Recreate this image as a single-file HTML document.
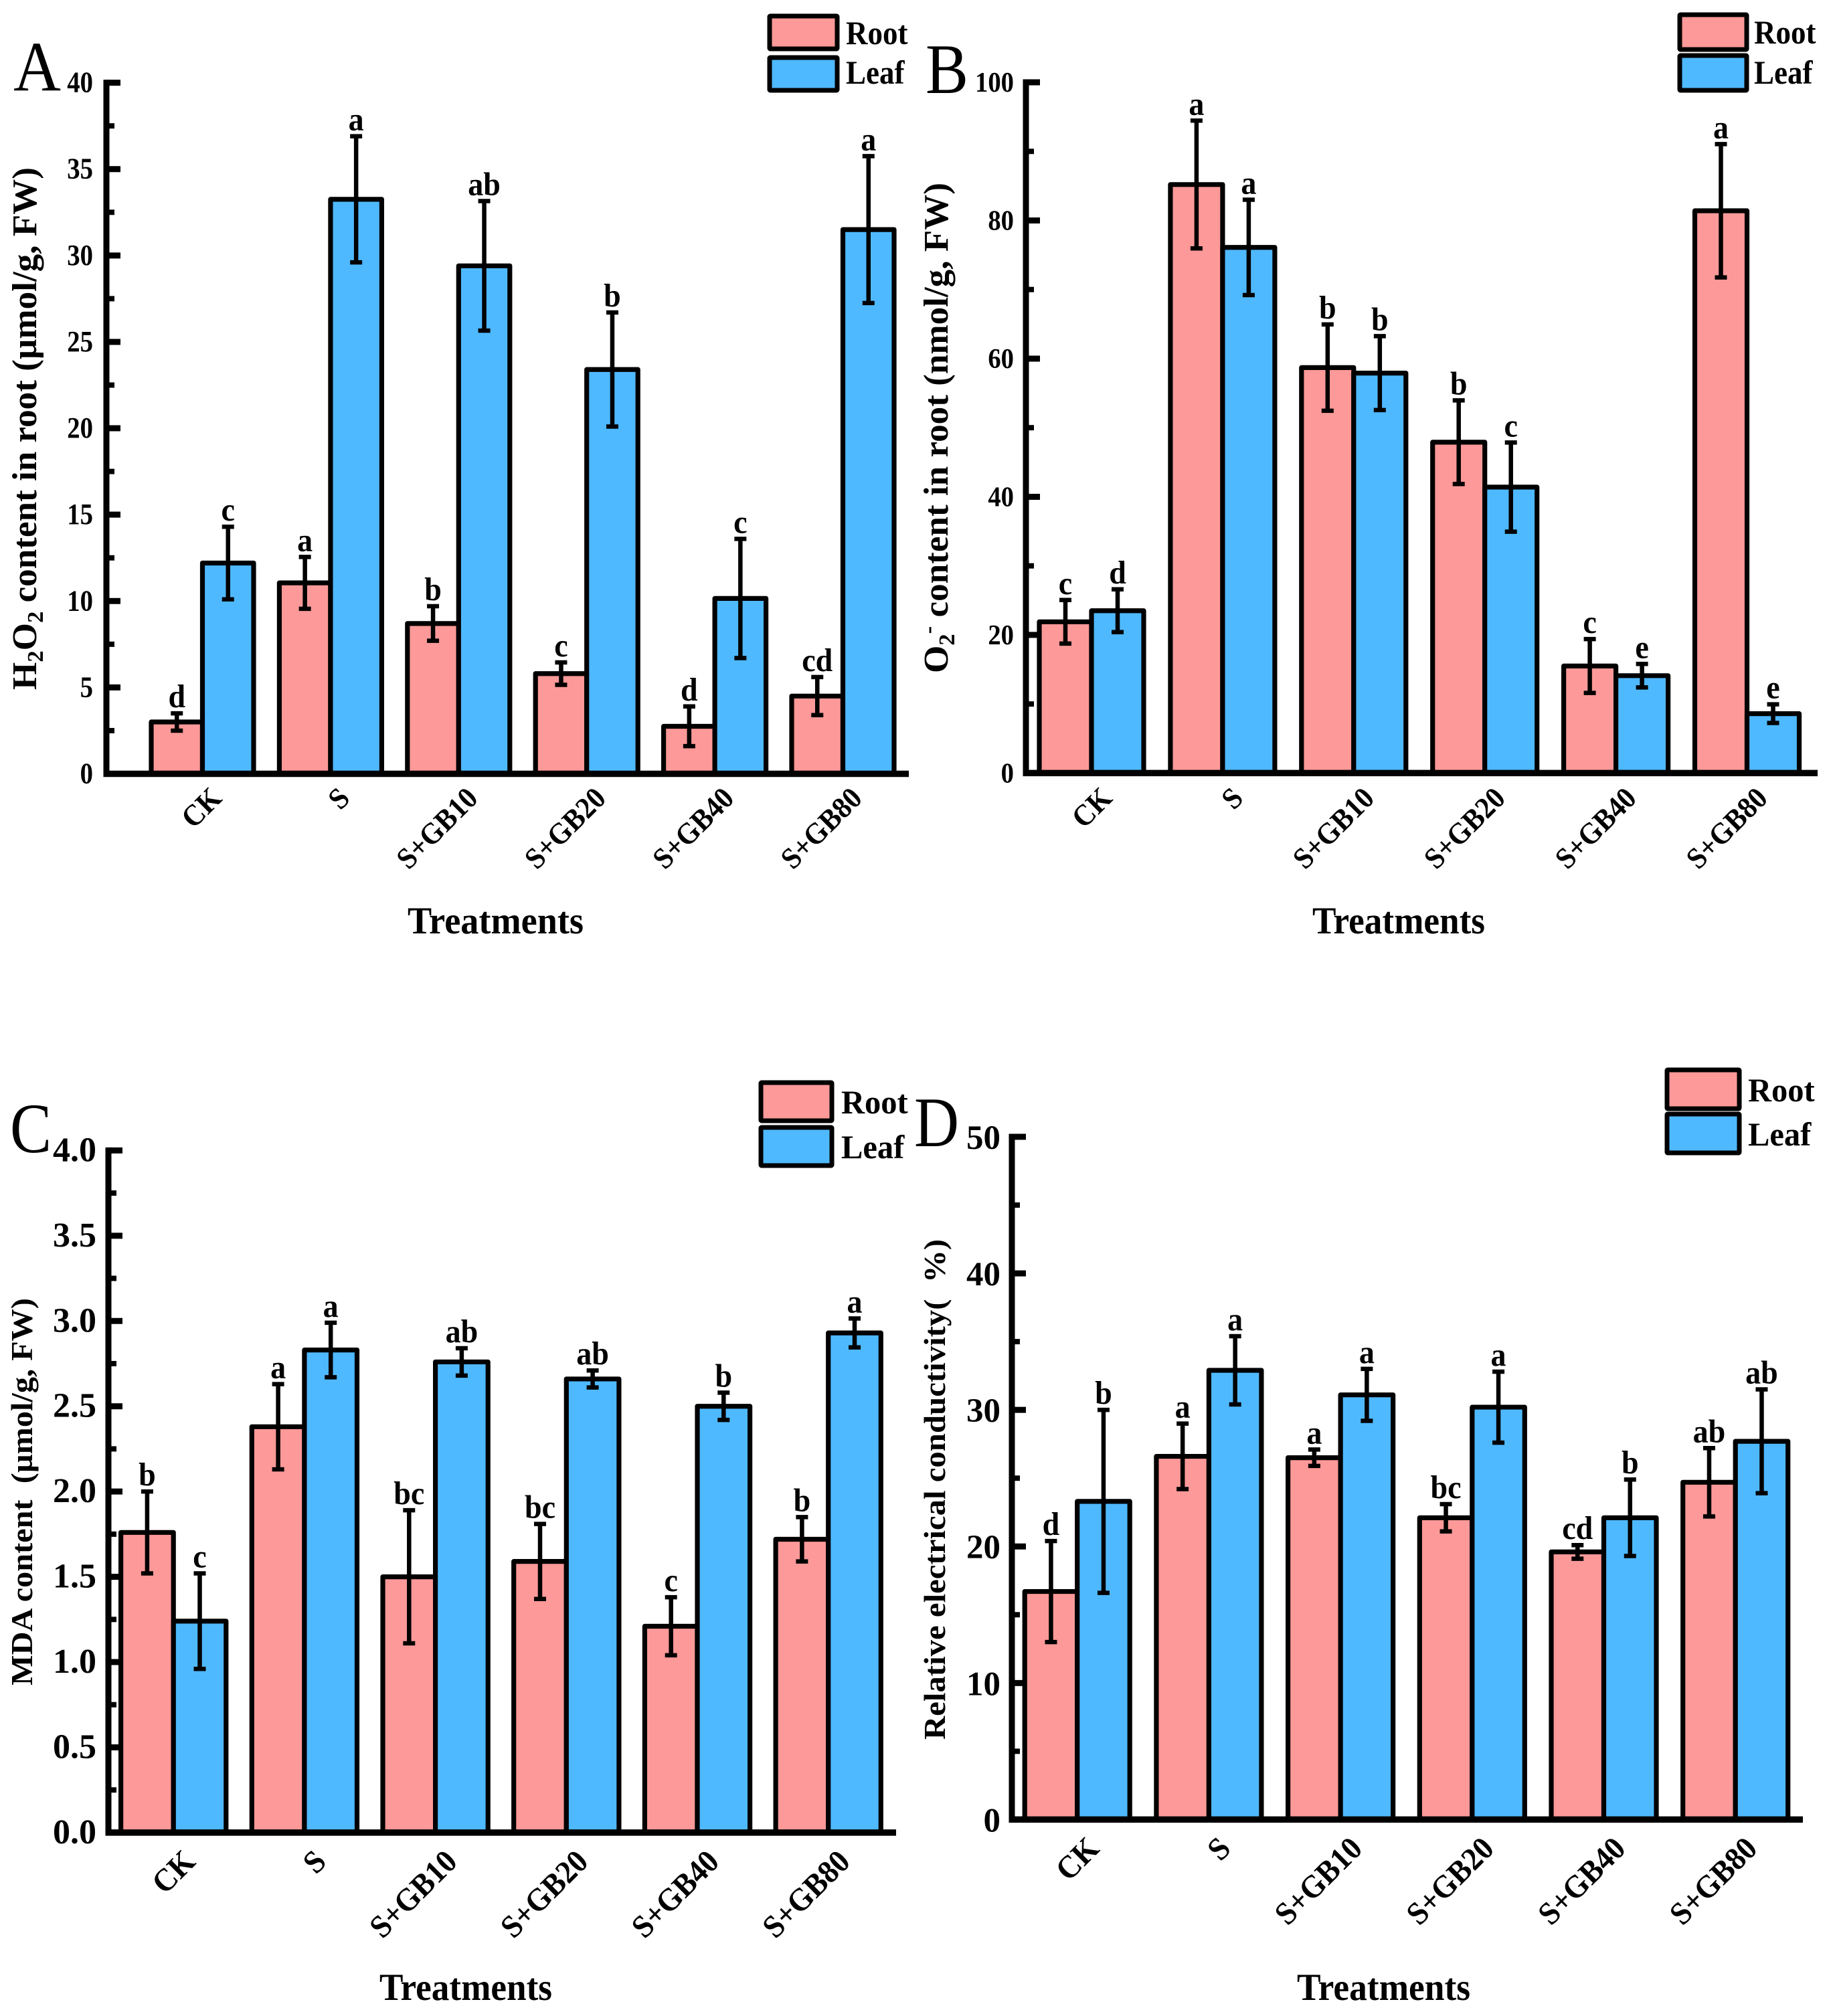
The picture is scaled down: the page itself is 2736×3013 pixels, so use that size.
<!DOCTYPE html>
<html lang="en">
<head>
<meta charset="utf-8">
<title>Root and leaf stress indicators across treatments</title>
<style>
html,body{margin:0;padding:0;background:#fff}
svg{display:block}
text{font-family:"Liberation Serif","Noto Serif CJK SC",serif;fill:#000}
</style>
</head>
<body>
<svg id="fig" xmlns="http://www.w3.org/2000/svg" width="2736" height="3013" viewBox="0 0 2736 3013">
<rect x="0" y="0" width="2736" height="3013" fill="#ffffff"></rect>
</svg>
<script>
// Shared categories
var categories = ['CK', 'S', 'S+GB10', 'S+GB20', 'S+GB40', 'S+GB80'];

// Panel A: H2O2
var tickLabelsA = ['0', '5', '10', '15', '20', '25', '30', '35', '40'];
var rootA = [3.0, 11.05, 8.7, 5.8, 2.75, 4.5];
var leafA = [12.2, 33.25, 29.4, 23.4, 10.15, 31.5];
var rootErrA = [0.5, 1.5, 1.0, 0.65, 1.15, 1.1];
var leafErrA = [2.1, 3.65, 3.75, 3.3, 3.45, 4.25];
var rootSigA = ['d', 'a', 'b', 'c', 'd', 'cd'];
var leafSigA = ['c', 'a', 'ab', 'b', 'c', 'a'];

// Panel B: O2-
var tickLabelsB = ['0', '20', '40', '60', '80', '100'];
var rootB = [21.9, 85.2, 58.7, 47.9, 15.5, 81.4];
var leafB = [23.5, 76.1, 57.9, 41.4, 14.1, 8.6];
var rootErrB = [3.15, 9.25, 6.25, 6.05, 3.9, 9.65];
var leafErrB = [3.1, 6.9, 5.35, 6.45, 1.7, 1.35];
var rootSigB = ['c', 'a', 'b', 'b', 'c', 'a'];
var leafSigB = ['d', 'a', 'b', 'c', 'e', 'e'];

// Panel C: MDA
var tickLabelsC = ['0.0', '0.5', '1.0', '1.5', '2.0', '2.5', '3.0', '3.5', '4.0'];
var rootC = [1.76, 2.38, 1.50, 1.59, 1.21, 1.72];
var leafC = [1.24, 2.83, 2.76, 2.66, 2.50, 2.93];
var rootErrC = [0.24, 0.25, 0.39, 0.22, 0.17, 0.13];
var leafErrC = [0.28, 0.16, 0.08, 0.05, 0.08, 0.085];
var rootSigC = ['b', 'a', 'bc', 'bc', 'c', 'b'];
var leafSigC = ['c', 'a', 'ab', 'ab', 'b', 'a'];

// Panel D: relative electrical conductivity
var tickLabelsD = ['0', '10', '20', '30', '40', '50'];
var rootD = [16.7, 26.6, 26.5, 22.1, 19.6, 24.7];
var leafD = [23.3, 32.9, 31.1, 30.2, 22.1, 27.7];
var rootErrD = [3.7, 2.4, 0.6, 1.0, 0.5, 2.5];
var leafErrD = [6.7, 2.5, 1.9, 2.6, 2.8, 3.8];
var rootSigD = ['d', 'a', 'a', 'bc', 'cd', 'ab'];
var leafSigD = ['b', 'a', 'a', 'a', 'b', 'ab'];

var NS = 'http://www.w3.org/2000/svg';
var ROOT_FILL = '#fe9999';
var LEAF_FILL = '#4fb9ff';
var fig = document.getElementById('fig');

function make(parent, tag, attrs, name, interact) {
  var el = document.createElementNS(NS, tag);
  for (var k in attrs) { el.setAttribute(k, attrs[k]); }
  
  
  parent.appendChild(el);
  return el;
}

function label(parent, str, o, name) {
  var tf = 'translate(' + o.x + ',' + o.y + ')';
  if (o.rot) { tf += ' rotate(' + o.rot + ')'; }
  if (o.sx) { tf += ' scale(' + o.sx + ',1)'; }
  var attrs = {
    transform: tf,
    'font-size': o.size,
    'font-weight': o.weight || 'bold',
    'text-anchor': o.anchor || 'start'
  };
  if (o.len) {
    attrs.textLength = o.len;
    attrs.lengthAdjust = 'spacingAndGlyphs';
  }
  var el = make(parent, 'text', attrs, name, false);
  if (str) { el.textContent = str; }
  return el;
}

function drawPanel(p) {
  var g = make(fig, 'g', {}, 'panel-' + p.id, false);
  var yMax = parseFloat(p.ticks[p.ticks.length - 1]);

  function yScale(v) { return p.y0 + (p.y1 - p.y0) * (v / yMax); }
  function xCenter(i) { return p.cx0 + p.period * i; }

  // Bars and error bars
  var bars = make(g, 'g', {}, 'bars', false);
  var series = [
    { key: 'root', vals: p.root, errs: p.rootErr, sig: p.rootSig, fill: ROOT_FILL, off: -1 },
    { key: 'leaf', vals: p.leaf, errs: p.leafErr, sig: p.leafSig, fill: LEAF_FILL, off: 0 }
  ];
  series.forEach(function (s) {
    s.vals.forEach(function (v, i) {
      var x = xCenter(i) + s.off * p.barW;
      make(bars, 'rect', {
        x: x, y: yScale(v), width: p.barW, height: p.y0 - yScale(v),
        fill: s.fill, stroke: '#000', 'stroke-width': 7.2, 'stroke-linejoin': 'round'
      }, 'bar-' + s.key + '-' + categories[i].toLowerCase().replace('+', '-'), false);
    });
  });
  series.forEach(function (s) {
    s.vals.forEach(function (v, i) {
      var cx = xCenter(i) + (s.off + 0.5) * p.barW;
      var hi = yScale(v + s.errs[i]);
      var lo = yScale(v - s.errs[i]);
      var e = make(g, 'g', {}, 'error-bar-' + s.key, false);
      make(e, 'line', { x1: cx, x2: cx, y1: hi, y2: lo, stroke: '#000', 'stroke-width': 6.5 }, 'error-stem', false);
      make(e, 'line', { x1: cx - 9, x2: cx + 9, y1: hi, y2: hi, stroke: '#000', 'stroke-width': 6.5 }, 'error-cap-top', false);
      make(e, 'line', { x1: cx - 9, x2: cx + 9, y1: lo, y2: lo, stroke: '#000', 'stroke-width': 6.5 }, 'error-cap-bottom', false);
      label(g, s.sig[i], { x: cx, y: hi - p.sigGap, size: 49, sx: 0.94, anchor: 'middle' }, 'significance-letter');
    });
  });

  // Y axis
  var axW = 9;
  var yAxis = make(g, 'g', {}, 'y-axis', false);
  make(yAxis, 'line', { x1: p.ax, x2: p.ax, y1: p.y1 - 4.5, y2: p.y0 + 4.5, stroke: '#000', 'stroke-width': axW }, 'y-axis-line', false);
  p.ticks.forEach(function (t, i) {
    var v = parseFloat(t);
    var y = yScale(v);
    make(yAxis, 'line', { x1: p.ax, x2: p.ax + 21, y1: y, y2: y, stroke: '#000', 'stroke-width': 9 }, 'y-major-tick', false);
    label(yAxis, t, { x: p.ax - p.tickGap, y: y + p.tickDy, size: p.tickSize, sx: p.tickSx, anchor: 'end' }, 'y-tick-label');
    if (i < p.ticks.length - 1) {
      var my = yScale((v + parseFloat(p.ticks[i + 1])) / 2);
      make(yAxis, 'line', { x1: p.ax, x2: p.ax + 12, y1: my, y2: my, stroke: '#000', 'stroke-width': 8 }, 'y-minor-tick', false);
    }
  });

  // X axis
  var xAxis = make(g, 'g', {}, 'x-axis', false);
  make(xAxis, 'line', { x1: p.ax - 4.5, x2: p.xEnd, y1: p.y0, y2: p.y0, stroke: '#000', 'stroke-width': 9.5 }, 'x-axis-line', false);
  categories.forEach(function (c, i) {
    label(xAxis, c, { x: xCenter(i) + p.catDx, y: p.y0 + p.catDy, rot: -45, size: p.catSize, sx: p.catSx, anchor: 'end' }, 'x-category-label');
  });
  label(xAxis, 'Treatments', { x: p.xt0, y: p.xtY, size: 57, len: p.xtLen }, 'x-axis-title');

  // Y axis title
  var yt = label(g, '', { x: p.ytX, y: p.yt0, rot: -90, size: p.ytSize, len: p.ytLen }, 'y-axis-title');
  p.ytParts.forEach(function (part) {
    var ts = make(yt, 'tspan', {}, 'y-title-part', false);
    if (part[1]) { ts.setAttribute('dy', part[1]); }
    if (part[2]) { ts.setAttribute('font-size', part[2]); }
    ts.textContent = part[0];
  });

  // Panel letter
  label(g, p.id, { x: p.letterX, y: p.letterY, size: 106, weight: 'normal', len: p.letterLen }, 'panel-letter-' + p.id);

  // Legend
  var lg = make(g, 'g', {}, 'legend', false);
  var lb = p.legend;
  make(lg, 'rect', { x: lb.x + 3, y: lb.y1 + 3, width: lb.w - 6, height: lb.h - 6, rx: 1, fill: ROOT_FILL, stroke: '#000', 'stroke-width': 7 }, 'legend-swatch-root', false);
  make(lg, 'rect', { x: lb.x + 3, y: lb.y2 + 3, width: lb.w - 6, height: lb.h - 6, rx: 1, fill: LEAF_FILL, stroke: '#000', 'stroke-width': 7 }, 'legend-swatch-leaf', false);
  label(lg, 'Root', { x: lb.tx, y: lb.b1, size: lb.size, sx: lb.sx }, 'legend-label-root');
  label(lg, 'Leaf', { x: lb.tx, y: lb.b2, size: lb.size, sx: lb.sx }, 'legend-label-leaf');
}

drawPanel({
  id: 'A', ticks: tickLabelsA, root: rootA, leaf: leafA, rootErr: rootErrA, leafErr: leafErrA, rootSig: rootSigA, leafSig: leafSigA,
  ax: 159, y0: 1156.5, y1: 123.6, cx0: 302.5, period: 191.4, barW: 76.5, xEnd: 1358,
  tickSize: 44, tickSx: 0.88, tickGap: 20, tickDy: 14, sigGap: 9,
  catDx: 31, catDy: 39, catSize: 45, catSx: 0.93,
  xt0: 609, xtY: 1395, xtLen: 263,
  ytX: 54, yt0: 1031, ytLen: 781, ytSize: 52,
  ytParts: [['H', 0], ['2', 10, 34], ['O', -10], ['2', 10, 34], [' content in root (\u00b5mol/g, FW)', -10]],
  letterX: 20, letterY: 135, letterLen: 71,
  legend: { x: 1147, y1: 21, y2: 83, w: 107, h: 55, tx: 1264, b1: 66, b2: 125, size: 50, sx: 0.9 }
});

drawPanel({
  id: 'B', ticks: tickLabelsB, root: rootB, leaf: leafB, rootErr: rootErrB, leafErr: leafErrB, rootSig: rootSigB, leafSig: leafSigB,
  ax: 1533, y0: 1155.4, y1: 123, cx0: 1631, period: 195.9, barW: 78, xEnd: 2716,
  tickSize: 42, tickSx: 0.92, tickGap: 18, tickDy: 14, sigGap: 9,
  catDx: 33, catDy: 40, catSize: 45, catSx: 0.93,
  xt0: 1961, xtY: 1395, xtLen: 258,
  ytX: 1416, yt0: 1006, ytLen: 733, ytSize: 52,
  ytParts: [['O', 0], ['2', 10, 34], ['-', -28, 34], [' content in root (nmol/g, FW)', 18]],
  letterX: 1383, letterY: 139, letterLen: 64,
  legend: { x: 2507, y1: 19, y2: 80, w: 106, h: 58, tx: 2621, b1: 65, b2: 125, size: 50, sx: 0.9 }
});

drawPanel({
  id: 'C', ticks: tickLabelsC, root: rootC, leaf: leafC, rootErr: rootErrC, leafErr: leafErrC, rootSig: rootSigC, leafSig: leafSigC,
  ax: 162, y0: 2738.9, y1: 1719.4, cx0: 259.2, period: 195.7, barW: 78.6, xEnd: 1339,
  tickSize: 52, tickSx: 1, tickGap: 18, tickDy: 16, sigGap: 9,
  catDx: 35, catDy: 46, catSize: 48, catSx: 0.94,
  xt0: 567, xtY: 2989, xtLen: 258,
  ytX: 48, yt0: 2519, ytLen: 579, ytSize: 46,
  ytParts: [['MDA content\u00a0\u00a0(\u00b5mol/g, FW)', 0]],
  letterX: 15, letterY: 1722, letterLen: 62,
  legend: { x: 1134, y1: 1615, y2: 1682, w: 112, h: 63, tx: 1257, b1: 1664, b2: 1731, size: 50, sx: 0.97 }
});

drawPanel({
  id: 'D', ticks: tickLabelsD, root: rootD, leaf: leafD, rootErr: rootErrD, leafErr: leafErrD, rootSig: rootSigD, leafSig: leafSigD,
  ax: 1512, y0: 2719.4, y1: 1699, cx0: 1609.7, period: 196.7, barW: 78.5, xEnd: 2694,
  tickSize: 51, tickSx: 1, tickGap: 17, tickDy: 18, sigGap: 9,
  catDx: 35, catDy: 46, catSize: 48, catSx: 0.94,
  xt0: 1938, xtY: 2989, xtLen: 259,
  ytX: 1412, yt0: 2600, ytLen: 748, ytSize: 46,
  ytParts: [['Relative electrical conductivity(\u00a0\u00a0%)', 0]],
  letterX: 1366, letterY: 1713, letterLen: 67,
  legend: { x: 2488, y1: 1596, y2: 1662, w: 114, h: 64, tx: 2612, b1: 1646, b2: 1712, size: 50, sx: 0.97 }
});
</script>
</body>
</html>
